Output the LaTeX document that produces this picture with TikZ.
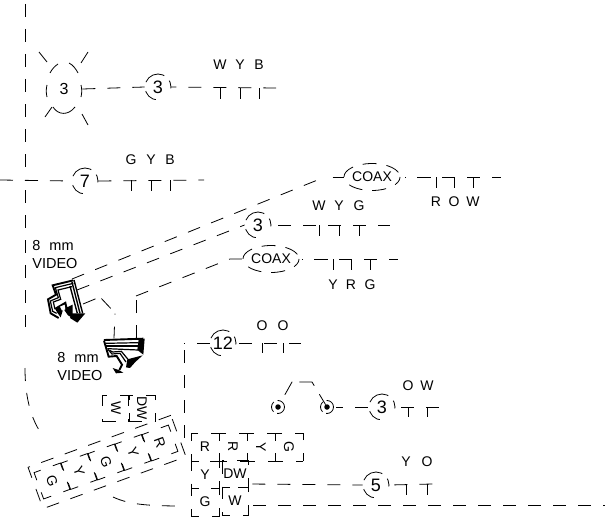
\documentclass[tikz,border=0pt]{standalone}
\usepackage{fontspec}
\setmainfont{Liberation Sans}
\usetikzlibrary{shapes.geometric}
\usetikzlibrary{positioning}
\begin{document}
\begin{tikzpicture}[x=1pt, y=-1pt, line width=0.8pt]
	\tikzset{
		wire/.style={dash pattern=on 13pt off 12pt},
		wirenum/.style={circle, draw, inner sep=0pt, minimum size=26pt, dash pattern=on 9pt off 7pt on 22pt off 9pt on 14pt off 21pt, dash phase=2.3pt, font=\fontsize{18}{19}\selectfont},
		coaxnum/.style={ellipse, draw, inner sep=0pt, minimum width=50pt, minimum height=27pt, dash pattern=on 14pt off 10pt, dash phase=19pt, font=\fontsize{14}{15}\selectfont},
		pinlabel/.style={inner sep=0pt, font=\fontsize{14}{15}\selectfont},
		pinbox/.style={rectangle, draw, inner sep=0pt, minimum size=28pt, dash pattern=on 15pt off 13pt, dash phase=7pt, font=\fontsize{14}{15}\selectfont},
		termdot/.style={circle, fill=black, inner sep=0pt, minimum size=5.5pt},
		termring/.style={dash pattern=on 11pt off 4pt},
		videotext/.style={inner sep=0pt, align=left, font=\fontsize{14.5}{18}\selectfont},
		camstroke/.style={line width=1.9pt, line join=miter},
	}
	\useasboundingbox (0,0) rectangle (605,519);

	% lamp
	\node[circle, inner sep=0pt, minimum size=36pt, font=\fontsize{16}{17}\selectfont] (lamp) at (64,89) {3};
	\draw (50,73) .. controls (52,69) and (55,66) .. (58,64);
	\draw (69,63) .. controls (73,65) and (76,69) .. (78,73);
	\draw (47,85) .. controls (46,89) and (46,93) .. (47,97);
	\draw (81,85) .. controls (82,89) and (82,93) .. (81,97);
	\draw (53,107) .. controls (58,115) and (68,116) .. (75,107);
	\draw (39,52) -- (47,62);
	\draw (88,52) -- (81,63);
	\draw (52,107) -- (45,117);
	\draw (82,114) -- (88,125);

	% wire numbers
	\node[wirenum] (numa) at (158,87) {3};
	\node[wirenum] (numb) at (85,181) {7};
	\node[wirenum] (numc) at (258,225) {3};
	\node[wirenum] (numd) at (223,343) {12};
	\node[wirenum] (nume) at (382,407) {3};
	\node[wirenum] (numf) at (376,485) {5};
	\node[coaxnum] (coaxa) at (372,177) {COAX};
	\node[coaxnum] (coaxb) at (271,259) {COAX};

	% pins and colour letters
	\foreach \px/\lab in {220/W, 240/Y, 259/B} {
		\draw (\px,88) -- ++(0,11);
		\node[pinlabel] (laba\px) at (\px,65) {\lab};
	}
	\foreach \px/\lab in {131/G, 151/Y, 170/B} {
		\draw (\px,180) -- ++(0,11);
		\node[pinlabel] (labb\px) at (\px,160) {\lab};
	}
	\foreach \px/\lab in {319/W, 339/Y, 359/G} {
		\draw (\px,225) -- ++(0,11);
		\node[pinlabel] (labc\px) at (\px,206) {\lab};
	}
	\foreach \px/\lab in {436/R, 454/O, 473/W} {
		\draw (\px,177) -- ++(0,11);
		\node[pinlabel] (labd\px) at (\px,202) {\lab};
	}
	\foreach \px/\lab in {333/Y, 351/R, 370/G} {
		\draw (\px,259) -- ++(0,11);
		\node[pinlabel] (labe\px) at (\px,285) {\lab};
	}
	\foreach \px/\lab in {262/O, 283/O} {
		\draw (\px,343) -- ++(0,10);
		\node[pinlabel] (labf\px) at (\px,326) {\lab};
	}
	\foreach \px/\lab in {408/O, 427/W} {
		\draw (\px,407) -- ++(0,10);
		\node[pinlabel] (labg\px) at (\px,386) {\lab};
	}
	\foreach \px/\lab in {406/Y, 427/O} {
		\draw (\px,484) -- ++(0,11);
		\node[pinlabel] (labh\px) at (\px,462) {\lab};
	}

	% video labels
	\node[videotext, anchor=north west] (videoa) at (32,240) {8\hspace{9pt}mm\\VIDEO};
	\node[videotext, anchor=north west] (videob) at (57,352) {8\hspace{9pt}mm\\VIDEO};

	% upper camera
	\begin{scope}[shift={(40,272)}, x=0.3333pt, y=-0.3333pt]
		\draw[camstroke] (100,25) -- (38,40) -- (48,68) -- (24,82) -- (32,124) -- (56,138);
		\draw[line width=1.2pt] (100,34) -- (46,47) -- (55,77) -- (31,87) -- (38,118) -- (50,124);
		\draw[line width=1.2pt] (96,44) -- (54,54) -- (62,82) -- (40,90) -- (45,112);
		\fill (44,108) -- (78,88) -- (82,106) -- (98,98) -- (98,138) -- (84,130) -- (70,110) -- (62,136) -- (52,122) -- cycle;
		\fill[white] (60,104) -- (74,98) -- (76,112) -- (66,116) -- cycle;
		\draw[line width=1.4pt] (102,24) -- (128,124);
		\draw[line width=1.4pt] (96,30) -- (120,124);
		\draw[line width=1.4pt] (90,42) -- (112,124);
		\fill (96,124) -- (136,124) -- (112,152) -- (90,138) -- cycle;
	\end{scope}
	\coordinate (cama) at (72,279);
	\coordinate (camb) at (77,290);
	\coordinate (camc) at (83,304);

	% lower camera
	\begin{scope}[shift={(98,334)}, x=0.3333pt, y=-0.3333pt]
		\draw[camstroke] (18,18) -- (136,14);
		\draw[camstroke] (18,20) -- (32,68) -- (56,66) -- (72,92) -- (64,108);
		\draw[line width=1.2pt] (22,28) -- (122,26);
		\draw[line width=1.2pt] (25,36) -- (122,36);
		\draw[line width=1.2pt] (28,44) -- (120,48);
		\draw[line width=1.2pt] (30,46) -- (42,60) -- (66,58) -- (84,84);
		\draw[line width=1.2pt] (36,50) -- (44,54) -- (70,52) -- (90,76);
		\fill (122,16) -- (140,14) -- (136,62) -- (118,48) -- cycle;
		\fill (88,76) -- (134,64) -- (112,84) -- (96,102) -- (84,100) -- cycle;
		\fill (44,102) -- (62,108) -- (76,116) -- (54,118) -- cycle;
	\end{scope}
	\coordinate (camd) at (114,338);
	\coordinate (came) at (136,338);

	% terminals
	\node[termdot] (terma) at (278,407) {};
	\node[termdot] (termb) at (327,407) {};
	\draw[termring] (terma.center) circle (6.5);
	\draw[termring] (termb.center) circle (6.5);

	% connector blocks
	\node[pinbox, minimum width=26pt, minimum height=27pt, rotate=-90] (blockw) at (116,408) {W};
	\node[pinbox, minimum width=26pt, minimum height=27pt, rotate=-90] (blockdw) at (142,408) {DW};

	\node[pinbox] (gridr) at (205,447) {R};
	\node[pinbox, rotate=-90] (gridrr) at (233,447) {R};
	\node[pinbox, rotate=-90] (gridy) at (261,447) {Y};
	\node[pinbox, rotate=-90] (gridg) at (289,447) {G};
	\node[pinbox, minimum width=28pt, minimum height=27pt] (gridyy) at (205,475) {Y};
	\node[pinbox, minimum width=26pt, minimum height=27pt] (griddw) at (235,474) {DW};
	\node[pinbox, minimum width=28pt, minimum height=28pt] (gridgg) at (205,502) {G};
	\node[pinbox, minimum width=26pt, minimum height=28pt] (gridw) at (235,501) {W};

	\node[rectangle, draw, inner sep=0pt, minimum width=152pt, minimum height=44pt, rotate=20, wire] (longblock) at (107,462) {};
	\node[pinbox, rotate=-70] (longg) at (52,481) {G};
	\node[pinbox, rotate=-70] (longy) at (79,471.5) {Y};
	\node[pinbox, rotate=-70] (longgg) at (106,462) {G};
	\node[pinbox, rotate=-70] (longyy) at (133,452.5) {Y};
	\node[pinbox, rotate=-70] (longr) at (160,443) {R};

	% named wire ends
	\coordinate (enda) at (276,88);
	\coordinate (endb) at (0,180);
	\coordinate (endc) at (204,180);
	\coordinate (endd) at (390,225);
	\coordinate (ende) at (501,177);
	\coordinate (endf) at (398,259);
	\coordinate (endg) at (301,343);
	\coordinate (endh) at (440,407);
	\coordinate (endi) at (433,484);
	\coordinate (endj) at (605,505);
	\coordinate (cornerd) at (184,343);

	% left trunk
	\draw[wire] (25,4) -- (25,167);
	\draw[wire] (25,190) -- (25,327);
	\draw[wire] (25,368) .. controls (25,395) and (30,415) .. (39,430);
	\draw[wire] (113,497) .. controls (130,505) and (150,506) .. (186,506);

	% wires
	\draw[wire] (lamp.east) -- (numa.west);
	\draw[wire, dash phase=8pt] (numa.east) -- (enda);
	\draw[wire] (endb) -- (numb.west);
	\draw[wire] (numb.east) -- (endc);
	\draw[wire] (cama) -- (325,177);
	\draw ([xshift=-11pt]coaxa.west) -- (coaxa.west);
	\draw[dash pattern=on 0pt off 5pt on 1pt off 11pt on 14pt off 11pt on 13pt off 12pt on 13pt off 12pt on 14pt off 12pt] (coaxa.east) -- (ende);
	\draw[wire] (camb) -- (numc.west);
	\draw[wire, dash phase=18pt] (numc.east) -- (endd);
	\draw[dash pattern=on 13.5pt off 7pt on 13.5pt off 7pt on 1pt off 12pt on 13pt] (camc) -- (100,297) -- (115,313) -- (camd);
	\draw[wire] (came) -- (136,300);
	\draw[wire] (136,296) -- (230,259) -- (coaxb.west);
	\draw[dash pattern=on 0pt off 3pt on 1pt off 11pt on 14pt off 11pt on 13pt off 12pt on 13pt off 12pt on 14pt off 12pt] (coaxb.east) -- (endf);
	\draw[wire] (numd.west) -- (cornerd);
	\draw[wire, dash phase=18pt] (cornerd) -- (184,438);
	\draw[wire, dash phase=22pt] (numd.east) -- (endg);
	\draw[dash pattern=on 0pt off 14pt on 15pt off 7pt on 17pt off 10pt on 12pt off 30pt] (terma.center) -- (292,382) -- (312,382) -- (termb.center);
	\draw[wire, dash phase=6pt] ([xshift=9pt]termb.center) -- (nume.west);
	\draw[wire, dash phase=19pt] (nume.east) -- (endh);
	\draw[wire, dash phase=21pt] (griddw.east |- 0,484) -- (numf.west);
	\draw[wire, dash phase=20pt] (numf.east) -- (endi);
	\draw[wire, dash phase=20pt] (gridw.east |- 0,505) -- (endj);
\end{tikzpicture}
\end{document}
